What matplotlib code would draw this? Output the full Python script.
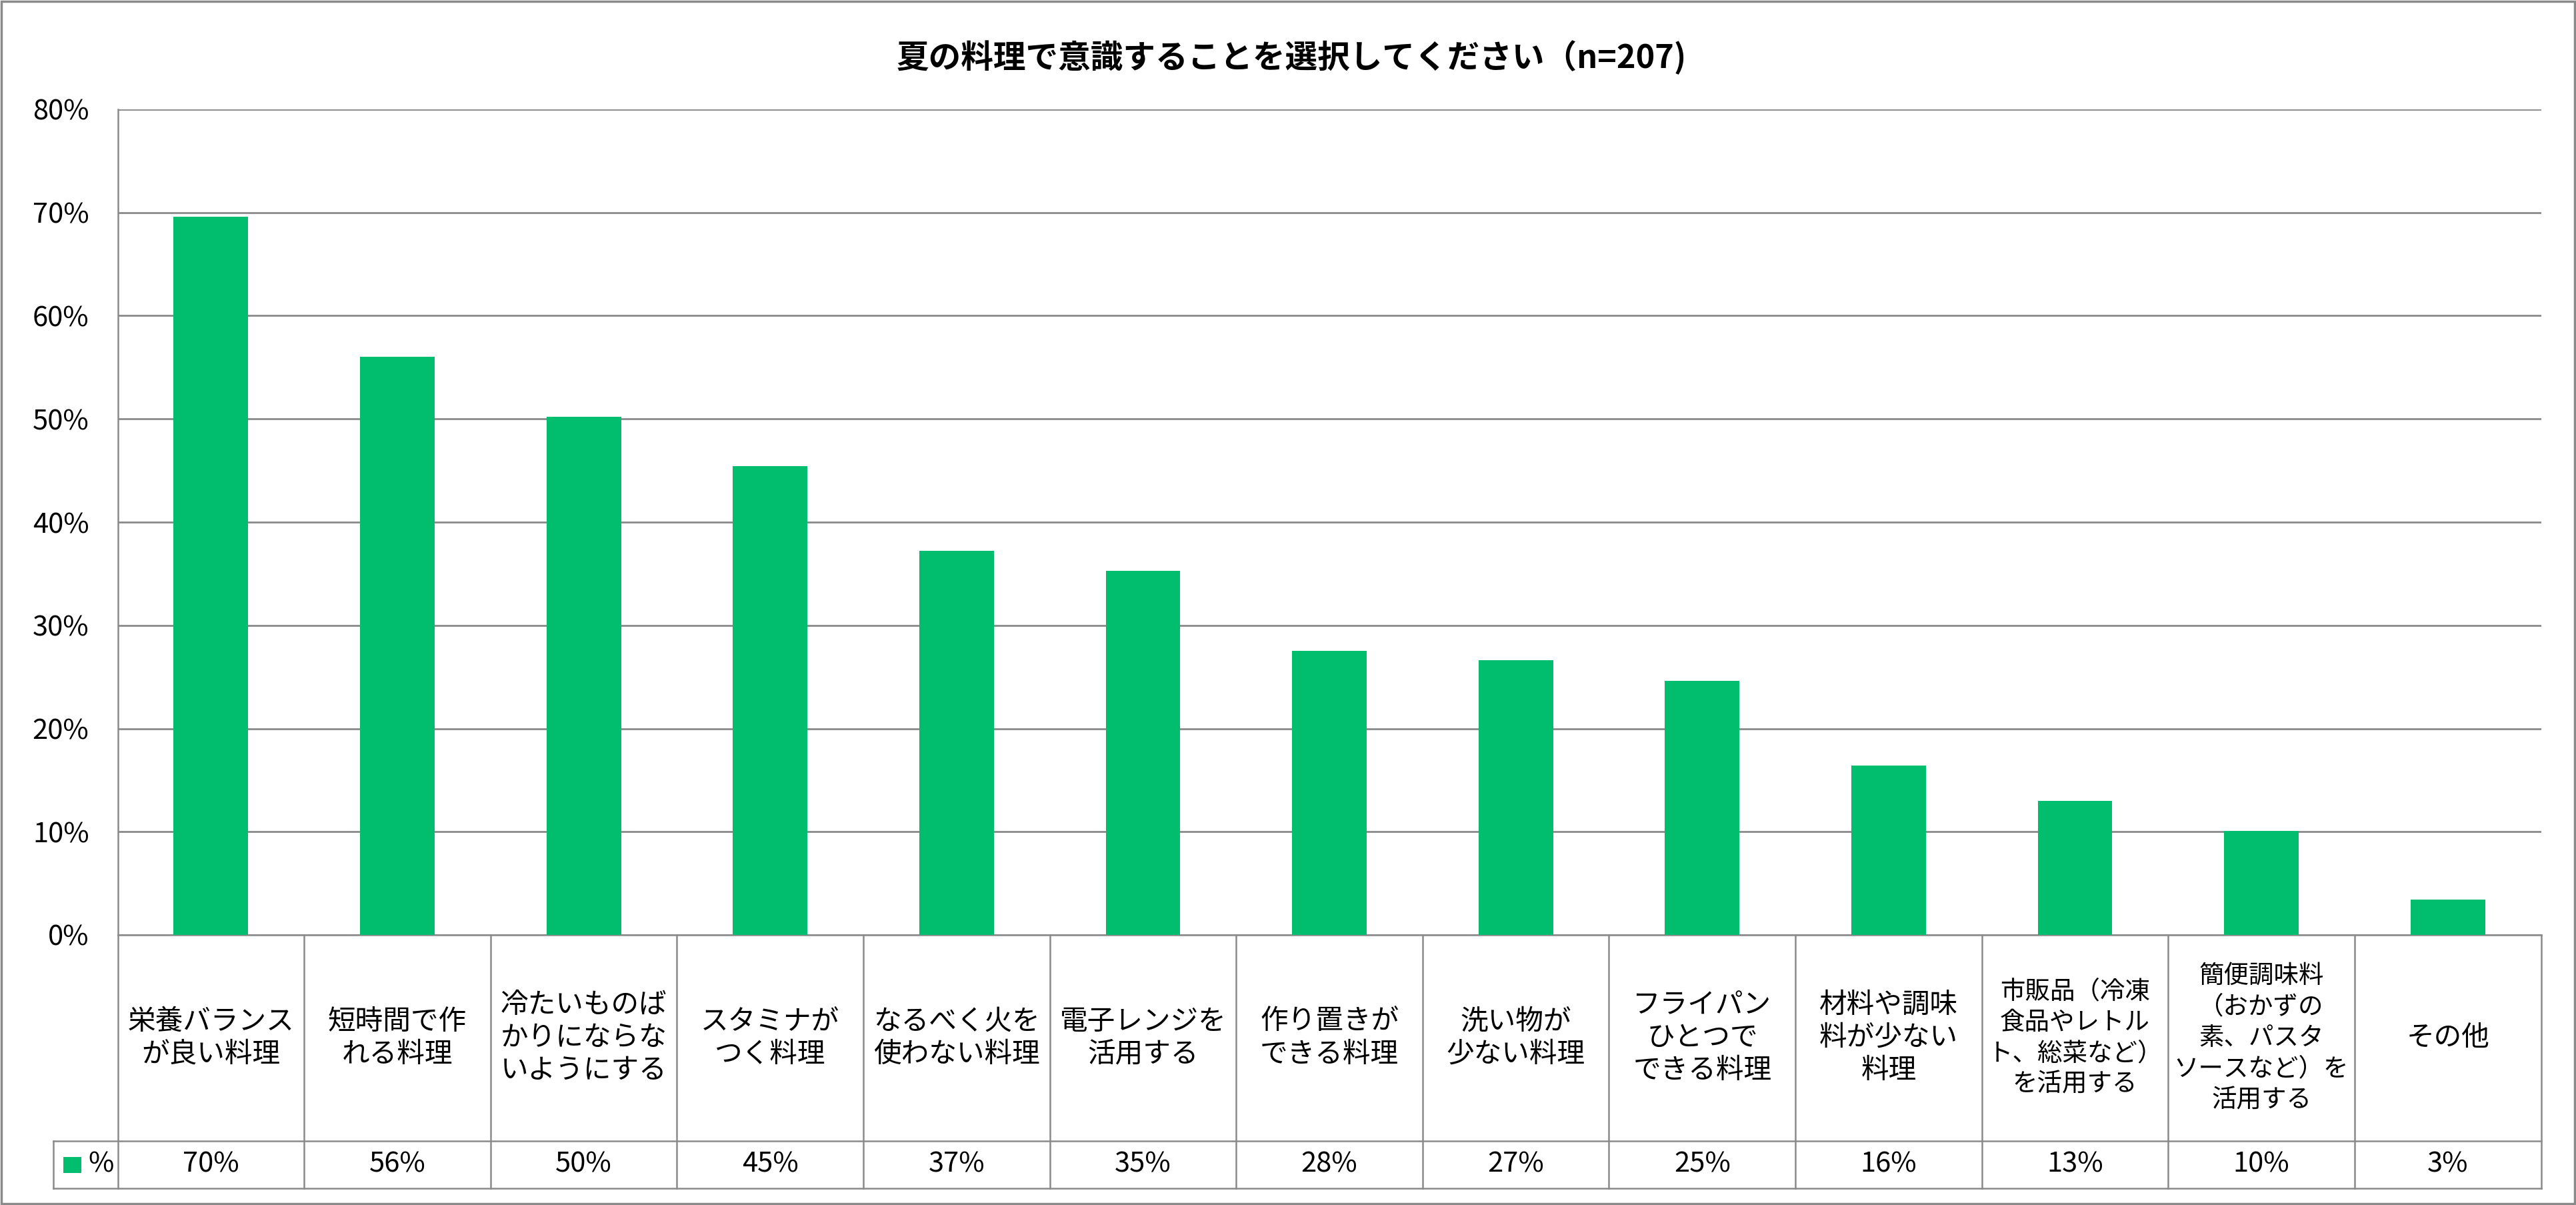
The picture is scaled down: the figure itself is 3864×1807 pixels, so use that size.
import matplotlib
matplotlib.use("Agg")
from matplotlib import pyplot as plt
from matplotlib.patches import Rectangle
import matplotlib.transforms as mtransforms

plt.rcParams['font.family'] = ['Noto Sans CJK JP', 'DejaVu Sans']

# data
title = "夏の料理で意識することを選択してください（n=207)"
categories = [
    "栄養バランス\nが良い料理",
    "短時間で作\nれる料理",
    "冷たいものば\nかりにならな\nいようにする",
    "スタミナが\nつく料理",
    "なるべく火を\n使わない料理",
    "電子レンジを\n活用する",
    "作り置きが\nできる料理",
    "洗い物が\n少ない料理",
    "フライパン\nひとつで\nできる料理",
    "材料や調味\n料が少ない\n料理",
    "市販品（冷凍\n食品やレトル\nト、総菜など）\nを活用する",
    "簡便調味料\n（おかずの\n素、パスタ\nソースなど）を\n活用する",
    "その他",
]
values = [69.6, 56.0, 50.2, 45.4, 37.2, 35.3, 27.5, 26.6, 24.6, 16.4, 13.0, 10.1, 3.4]
table_labels = ["70%", "56%", "50%", "45%", "37%", "35%", "28%", "27%", "25%", "16%", "13%", "10%", "3%"]
series_name = "%"
yticks = [0, 10, 20, 30, 40, 50, 60, 70, 80]

# styling
W, H = 3864, 1807
green = "#00BE6E"
grey = "#8A8A8A"
fs = 30

fig = plt.figure(figsize=(W / 100, H / 100), dpi=100)
fig.patch.set_facecolor("white")

# outer frame
fig.patches.append(Rectangle((0.0005, 0.001), 0.999, 0.998, transform=fig.transFigure,
                             fill=False, edgecolor=grey, linewidth=2.5))

ax_l, ax_r, ax_t, ax_b = 176.6, 3811.5, 164, 1402
ax = fig.add_axes([ax_l / W, 1 - ax_b / H, (ax_r - ax_l) / W, (ax_b - ax_t) / H])
ax_h = ax_b - ax_t
col_w = (ax_r - ax_l) / len(categories)

x = list(range(len(categories)))
ax.bar(x, values, width=0.4, color=green, zorder=3)

ax.set_xlim(-0.5, len(categories) - 0.5)
ax.set_ylim(0, 80)
ax.set_yticks(yticks)
ax.set_yticklabels([f"{v}%" for v in yticks], fontsize=fs)
ax.tick_params(axis="y", length=0, pad=31)
ax.tick_params(axis="x", bottom=False, labelbottom=False)
ax.yaxis.grid(True, color=grey, linewidth=2.0, zorder=0)
for s in ["top", "right", "bottom"]:
    ax.spines[s].set_visible(False)
ax.spines["left"].set_color(grey)
ax.spines["left"].set_linewidth(1.8)

# data table below the axis
trans = mtransforms.blended_transform_factory(ax.transData, ax.transAxes)
row1 = -(1711 - ax_b) / ax_h   # bottom of category row
row2 = -(1782 - ax_b) / ax_h   # bottom of value row
key_left = -0.5 - (ax_l - 80) / col_w

line_kw = dict(color=grey, linewidth=1.8, transform=trans, clip_on=False)
ax.plot([-0.5, len(categories) - 0.5], [0, 0], **line_kw)
ax.plot([key_left, len(categories) - 0.5], [row1, row1], **line_kw)
ax.plot([key_left, len(categories) - 0.5], [row2, row2], **line_kw)
ax.plot([-0.5, -0.5], [0, row2], **line_kw)
ax.plot([key_left, key_left], [row1, row2], **line_kw)
for i in range(len(categories)):
    ax.plot([i + 0.5, i + 0.5], [0, row2], **line_kw)

for i, (lab, val) in enumerate(zip(categories, table_labels)):
    # longest line must still fit inside its cell
    longest = max(len(s) for s in lab.split("\n"))
    size = fs if longest <= 6 else 27
    ax.text(i, row1 / 2, lab, transform=trans, ha="center", va="center",
            fontsize=size, linespacing=1.25, clip_on=False)
    ax.text(i, (row1 + row2) / 2, val, transform=trans, ha="center", va="center",
            fontsize=fs, clip_on=False)

# legend key in the table
key_x = key_left + (95 - 80) / col_w
ax.add_patch(Rectangle((key_x, (row1 + row2) / 2 - 12 / ax_h), 27 / col_w, 24 / ax_h,
                       transform=trans, facecolor=green, edgecolor="none", clip_on=False))
ax.text(key_left + (132 - 80) / col_w, (row1 + row2) / 2, series_name, transform=trans,
        ha="left", va="center", fontsize=fs, clip_on=False)

fig.text(1937 / W, 1 - 86 / H, title, ha="center", va="center", fontsize=35, fontweight="bold")

fig.savefig("out.png", dpi=100, facecolor="white")
